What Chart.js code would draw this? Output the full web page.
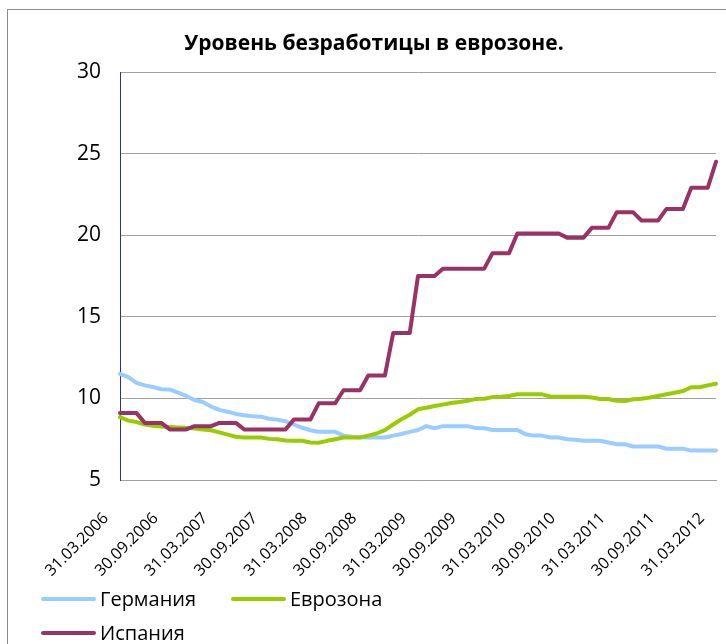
<!DOCTYPE html>
<html>
<head>
<meta charset="utf-8">
<script src="https://cdn.jsdelivr.net/npm/chart.js@4/dist/chart.umd.min.js"></script>
<style>
  html, body { margin: 0; padding: 0; background: #fff; overflow: hidden; }
  #wrap { position: relative; width: 726px; height: 644px; }
</style>
</head>
<body>
<div id="wrap"><canvas id="chart" width="726" height="644"></canvas></div>
<script>
// month-end dates, March 2006 .. March 2012
var months = [
  '31.03.2006','30.04.2006','31.05.2006','30.06.2006','31.07.2006','31.08.2006','30.09.2006','31.10.2006','30.11.2006','31.12.2006',
  '31.01.2007','28.02.2007','31.03.2007','30.04.2007','31.05.2007','30.06.2007','31.07.2007','31.08.2007','30.09.2007','31.10.2007','30.11.2007','31.12.2007',
  '31.01.2008','29.02.2008','31.03.2008','30.04.2008','31.05.2008','30.06.2008','31.07.2008','31.08.2008','30.09.2008','31.10.2008','30.11.2008','31.12.2008',
  '31.01.2009','28.02.2009','31.03.2009','30.04.2009','31.05.2009','30.06.2009','31.07.2009','31.08.2009','30.09.2009','31.10.2009','30.11.2009','31.12.2009',
  '31.01.2010','28.02.2010','31.03.2010','30.04.2010','31.05.2010','30.06.2010','31.07.2010','31.08.2010','30.09.2010','31.10.2010','30.11.2010','31.12.2010',
  '31.01.2011','28.02.2011','31.03.2011','30.04.2011','31.05.2011','30.06.2011','31.07.2011','31.08.2011','30.09.2011','31.10.2011','30.11.2011','31.12.2011',
  '31.01.2012','29.02.2012','31.03.2012'
];

var germany = [
  11.5, 11.3, 10.95, 10.8, 10.7, 10.56, 10.55, 10.35, 10.15, 9.9,
  9.78, 9.5, 9.3, 9.18, 9.05, 8.97, 8.9, 8.88, 8.75, 8.7, 8.6, 8.4,
  8.2, 8.05, 7.96, 7.95, 7.95, 7.72, 7.65, 7.62, 7.6, 7.6, 7.6, 7.72,
  7.82, 7.95, 8.06, 8.3, 8.17, 8.3, 8.3, 8.3, 8.3, 8.18, 8.17, 8.06,
  8.06, 8.06, 8.06, 7.8, 7.72, 7.72, 7.6, 7.6, 7.5, 7.47, 7.41, 7.41,
  7.4, 7.3, 7.19, 7.19, 7.05, 7.05, 7.05, 7.05, 6.92, 6.92, 6.92, 6.8,
  6.8, 6.8, 6.8
];

var eurozone = [
  8.85, 8.64, 8.55, 8.4, 8.32, 8.28, 8.25, 8.22, 8.2, 8.15,
  8.1, 8.05, 7.92, 7.78, 7.65, 7.6, 7.6, 7.6, 7.52, 7.5, 7.42, 7.4,
  7.4, 7.3, 7.28, 7.4, 7.5, 7.6, 7.6, 7.6, 7.72, 7.85, 8.05, 8.4,
  8.72, 9.0, 9.33, 9.43, 9.53, 9.62, 9.72, 9.78, 9.85, 9.97, 9.98, 10.08,
  10.1, 10.15, 10.25, 10.25, 10.25, 10.25, 10.12, 10.1, 10.1, 10.1, 10.1, 10.05,
  9.96, 9.96, 9.86, 9.84, 9.95, 9.98, 10.05, 10.15, 10.25, 10.35, 10.45, 10.68,
  10.68, 10.8, 10.9
];

var spain = [
  9.1, 9.1, 9.1, 8.5, 8.5, 8.5, 8.1, 8.1, 8.1, 8.3,
  8.3, 8.3, 8.5, 8.5, 8.5, 8.1, 8.1, 8.1, 8.1, 8.1, 8.1, 8.7,
  8.7, 8.7, 9.7, 9.7, 9.7, 10.5, 10.5, 10.5, 11.4, 11.4, 11.4, 14.0,
  14.0, 14.0, 17.5, 17.5, 17.5, 17.95, 17.95, 17.95, 17.95, 17.95, 17.95, 18.9,
  18.9, 18.9, 20.1, 20.1, 20.1, 20.1, 20.1, 20.1, 19.85, 19.85, 19.85, 20.45,
  20.45, 20.45, 21.4, 21.4, 21.4, 20.9, 20.9, 20.9, 21.6, 21.6, 21.6, 22.9,
  22.9, 22.9, 24.5
];

var seriesNames = ['Германия', 'Еврозона', 'Испания'];
var seriesColors = ['#99ccff', '#99cc00', '#993366'];
var yTicks = [5, 10, 15, 20, 25, 30];
var chartTitle = 'Уровень безработицы в еврозоне.';

var FONT = '"Open Sans", "DejaVu Sans", sans-serif';

// frame, title and the two-row legend drawn straight on the canvas
var decorPlugin = {
  id: 'decor',
  beforeDraw: function(chart) {
    var ctx = chart.ctx;
    ctx.save();
    ctx.fillStyle = '#fff';
    ctx.fillRect(0, 0, chart.width, chart.height);
    ctx.strokeStyle = '#8c8c8c';
    ctx.lineWidth = 1;
    ctx.strokeRect(7.5, 9.5, 900, 900);
    ctx.restore();
  },
  afterDraw: function(chart) {
    var ctx = chart.ctx;
    ctx.save();
    ctx.fillStyle = '#000';
    ctx.font = 'bold 21px ' + FONT;
    ctx.textAlign = 'center';
    ctx.textBaseline = 'middle';
    ctx.fillText(chartTitle, 374, 44);

    var items = [[43, 599], [233, 599], [43, 633]];
    ctx.font = '20px ' + FONT;
    ctx.textAlign = 'left';
    chart.data.datasets.forEach(function(ds, i) {
      var p = items[i];
      ctx.strokeStyle = ds.borderColor;
      ctx.lineWidth = 4;
      ctx.lineCap = 'round';
      ctx.beginPath();
      ctx.moveTo(p[0], p[1]);
      ctx.lineTo(p[0] + 51, p[1]);
      ctx.stroke();
      ctx.fillStyle = '#000';
      ctx.fillText(ds.label, p[0] + 57, p[1] + 1);
    });
    ctx.restore();
  }
};

var ctx = document.getElementById('chart').getContext('2d');
var chart = new Chart(ctx, {
  type: 'line',
  data: {
    labels: months,
    datasets: [
      { label: seriesNames[0], data: germany, borderColor: seriesColors[0], order: 2 },
      { label: seriesNames[1], data: eurozone, borderColor: seriesColors[1], order: 1 },
      { label: seriesNames[2], data: spain, borderColor: seriesColors[2], order: 0 }
    ]
  },
  options: {
    responsive: false,
    animation: false,
    layout: { padding: { top: 72, right: 10, left: 0, bottom: 0 } },
    elements: {
      line: { borderWidth: 4, tension: 0, borderJoinStyle: 'round', borderCapStyle: 'round' },
      point: { radius: 0 }
    },
    plugins: {
      legend: { display: false },
      title: { display: false },
      tooltip: { enabled: false }
    },
    scales: {
      x: {
        offset: false,
        grid: { display: false, drawTicks: false },
        border: { color: '#a0a0a0', width: 1 },
        ticks: {
          autoSkip: false,
          maxRotation: 45,
          minRotation: 45,
          padding: 29,
          labelOffset: -14,
          color: '#000',
          font: { family: FONT, size: 16 },
          callback: function(v, i) { return i % 6 === 0 ? months[i] : ''; }
        },
        afterFit: function(s) { s.height = 164; s.paddingLeft = 0; s.paddingRight = 0; }
      },
      y: {
        min: 5,
        max: 30,
        afterBuildTicks: function(s) { s.ticks = yTicks.map(function(v) { return { value: v }; }); },
        grid: { color: '#a0a0a0', lineWidth: 1, drawTicks: false },
        border: { color: '#2e2e9a', width: 1 },
        ticks: {
          padding: 19,
          color: '#000',
          font: { family: FONT, size: 21 }
        },
        afterFit: function(s) { s.width = 120; }
      }
    }
  },
  plugins: [decorPlugin]
});
</script>
</body>
</html>
